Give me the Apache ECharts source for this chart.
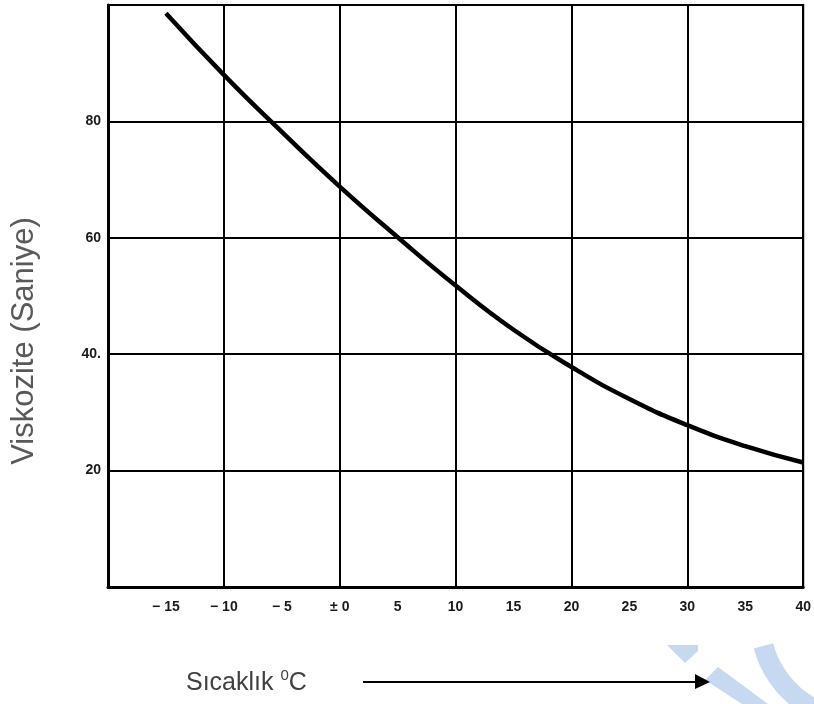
<!DOCTYPE html>
<html>
<head>
<meta charset="utf-8">
<script src="https://cdn.jsdelivr.net/npm/echarts@6/dist/echarts.min.js"></script>
<style>
  html, body { margin: 0; padding: 0; background: #fff; }
  #chart { width: 814px; height: 704px; }
</style>
</head>
<body>
<div id="chart"></div>
<script>
// Temperature (°C) vs. viscosity (seconds)
var temperatures = [-15, -10, -5, 0, 5, 10, 15, 20, 25, 30, 35, 40];
var viscosity    = [98.6, 88, 78.2, 68.8, 60.1, 51.8, 44.2, 37.8, 32.3, 27.8, 24.2, 21.4];

// Tick labels
var xTickLabels = {
  '-15': '\u2212 15', '-10': '\u2212 10', '-5': '\u2212 5', '0': '\u00b1 0',
  '5': '5', '10': '10', '15': '15', '20': '20', '25': '25', '30': '30', '35': '35', '40': '40'
};
var yTickLabels = { '20': '20', '40': '40.', '60': '60', '80': '80' };

var yTitle = 'Viskozite (Saniye)';
var xTitle = 'Sıcaklık ';

var points = temperatures.map(function (t, i) { return [t, viscosity[i]]; });

var chart = echarts.init(document.getElementById('chart'));
var labelStyle = { fontFamily: 'Liberation Sans', fontSize: 14, fontWeight: 'bold', color: '#1a1a1a' };

chart.setOption({
  animation: false,
  backgroundColor: '#fff',
  grid: {
    left: 108, right: 8, top: 5, bottom: 117,
    show: true, borderColor: '#000', borderWidth: 2, backgroundColor: 'transparent'
  },
  xAxis: [
    {
      type: 'value', min: -20, max: 40, interval: 5, position: 'bottom',
      axisLine: { show: true, onZero: false, lineStyle: { color: '#000', width: 3 } },
      axisTick: { show: false },
      splitLine: { show: false },
      axisLabel: Object.assign({
        margin: 13,
        formatter: function (v) { return xTickLabels[String(v)] || ''; }
      }, labelStyle)
    },
    {
      type: 'value', min: -20, max: 40, interval: 10,
      axisLine: { show: false }, axisTick: { show: false }, axisLabel: { show: false },
      splitLine: { show: true, lineStyle: { color: '#000', width: 2 } }
    }
  ],
  yAxis: {
    type: 'value', min: 0, max: 100, interval: 20,
    axisLine: { show: true, onZero: false, lineStyle: { color: '#000', width: 3 } },
    axisTick: { show: false },
    splitLine: { show: true, lineStyle: { color: '#000', width: 2 } },
    axisLabel: Object.assign({
      margin: 7,
      formatter: function (v) { return yTickLabels[String(v)] || ''; }
    }, labelStyle)
  },
  series: [{
    type: 'line',
    xAxisIndex: 0,
    data: points,
    smooth: true,
    symbol: 'none',
    lineStyle: { color: '#000', width: 4.5 },
    z: 5
  }],
  graphic: [
    // light blue decoration, lower right
    { type: 'polygon', silent: true, z: 1,
      shape: { points: [[667, 645], [698, 645], [698, 651], [685, 663]] },
      style: { fill: '#c6d9f1' } },
    { type: 'polygon', silent: true, z: 1,
      shape: { points: [[705, 680], [718, 667], [768, 704], [742, 704]] },
      style: { fill: '#c6d9f1' } },
    { type: 'sector', silent: true, z: 1,
      shape: { cx: 860, cy: 620, r0: 90, r: 110,
               startAngle: 60 * Math.PI / 180, endAngle: 165 * Math.PI / 180, clockwise: true },
      style: { fill: '#c6d9f1' } },
    // axis titles
    { type: 'text', z: 10, rotation: Math.PI / 2, x: 24, y: 341,
      style: { text: yTitle, font: '31px "Liberation Sans"', fill: '#595959',
               textAlign: 'center', textVerticalAlign: 'middle' } },
    { type: 'text', z: 10, x: 186, y: 682,
      style: {
        text: '{a|' + xTitle + '}{s|0}{a|C}',
        rich: {
          a: { font: '25px "Liberation Sans"', fill: '#404040', verticalAlign: 'bottom' },
          s: { font: '15px "Liberation Sans"', fill: '#404040', verticalAlign: 'top', padding: [0, 0, 12, 0] }
        },
        textVerticalAlign: 'middle'
      } },
    // arrow
    { type: 'line', z: 10, shape: { x1: 363, y1: 682, x2: 700, y2: 682 },
      style: { stroke: '#000', lineWidth: 2 } },
    { type: 'polygon', z: 10, shape: { points: [[695, 674], [710, 682], [695, 689]] },
      style: { fill: '#000' } }
  ]
});
</script>
</body>
</html>
